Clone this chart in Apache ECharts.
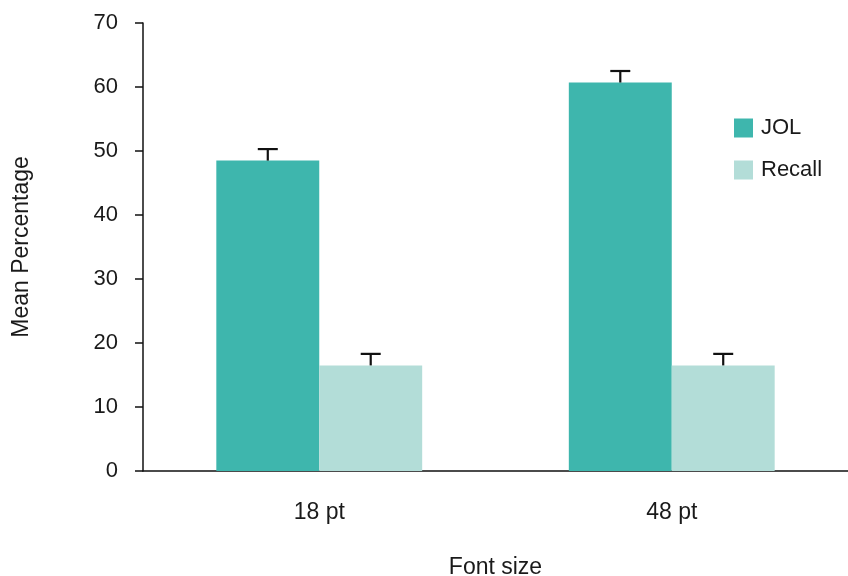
<!DOCTYPE html>
<html>
<head>
<meta charset="utf-8">
<script src="https://cdn.jsdelivr.net/npm/echarts@6/dist/echarts.min.js"></script>
<style>html,body{margin:0;padding:0;background:#fff}#c{width:848px;height:576px}</style>
</head>
<body>
<div id="c"></div>
<script>
const categories = ['18 pt', '48 pt'];
const jolValues = [48.5, 60.7];
const jolErrors = [1.8, 1.8];
const recallValues = [16.5, 16.5];
const recallErrors = [1.8, 1.8];
const seriesNames = ['JOL', 'Recall'];

const FONT = 'Liberation Sans, Arial, Helvetica, sans-serif';
const TXT = '#1a1a1a';
const BAR_PCT = 0.292;
const FS = 23;

function errorSeries(values, errors, side) {
  return {
    type: 'custom',
    silent: true,
    z: 5,
    data: values.map((v, i) => [i, v, v + errors[i]]),
    renderItem: function (params, api) {
      const band = api.size([1, 0])[0];
      const off = side * band * BAR_PCT / 2;
      const base = api.coord([api.value(0), api.value(1)]);
      const top = api.coord([api.value(0), api.value(2)]);
      const x = base[0] + off;
      const style = { stroke: '#111', lineWidth: 2.2 };
      return {
        type: 'group',
        children: [
          { type: 'line', shape: { x1: x, y1: base[1], x2: x, y2: top[1] }, style: style },
          { type: 'line', shape: { x1: x - 10, y1: top[1], x2: x + 10, y2: top[1] }, style: style }
        ]
      };
    }
  };
}

const chart = echarts.init(document.getElementById('c'), null, { renderer: 'canvas' });
chart.setOption({
  animation: false,
  textStyle: { fontFamily: FONT },
  grid: { left: 143, right: 0, top: 23, bottom: 105, containLabel: false, outerBoundsMode: 'none' },
  legend: {
    orient: 'vertical',
    left: 729, top: 112,
    icon: 'rect',
    itemWidth: 19, itemHeight: 19, itemGap: 20,
    data: seriesNames,
    textStyle: { fontSize: 22, color: TXT, fontFamily: FONT, padding: [0, 0, 0, 3] }
  },
  xAxis: {
    type: 'category',
    data: categories,
    name: 'Font size',
    nameLocation: 'middle',
    nameGap: 85,
    nameTextStyle: { fontSize: FS, color: TXT, fontFamily: FONT },
    axisLine: { lineStyle: { color: '#111', width: 1.5 } },
    axisTick: { length: 8, lineStyle: { color: '#111', width: 1.5 } },
    axisLabel: { fontSize: FS, color: TXT, margin: 30, fontFamily: FONT }
  },
  yAxis: {
    type: 'value',
    min: 0, max: 70, interval: 10,
    name: 'Mean Percentage',
    nameLocation: 'middle',
    nameGap: 110,
    nameTextStyle: { fontSize: FS, color: TXT, fontFamily: FONT },
    axisLine: { show: true, lineStyle: { color: '#111', width: 1.5 } },
    axisTick: { show: true, length: 8, lineStyle: { color: '#111', width: 1.5 } },
    axisLabel: { fontSize: 22, color: TXT, margin: 25, fontFamily: FONT },
    splitLine: { show: false }
  },
  series: [
    { name: 'JOL', type: 'bar', data: jolValues, barWidth: (BAR_PCT * 100) + '%', barGap: '0%', itemStyle: { color: '#3eb6ad' } },
    { name: 'Recall', type: 'bar', data: recallValues, barWidth: (BAR_PCT * 100) + '%', barGap: '0%', itemStyle: { color: '#b3ddd8' } },
    errorSeries(jolValues, jolErrors, -1),
    errorSeries(recallValues, recallErrors, 1)
  ]
});
</script>
</body>
</html>
